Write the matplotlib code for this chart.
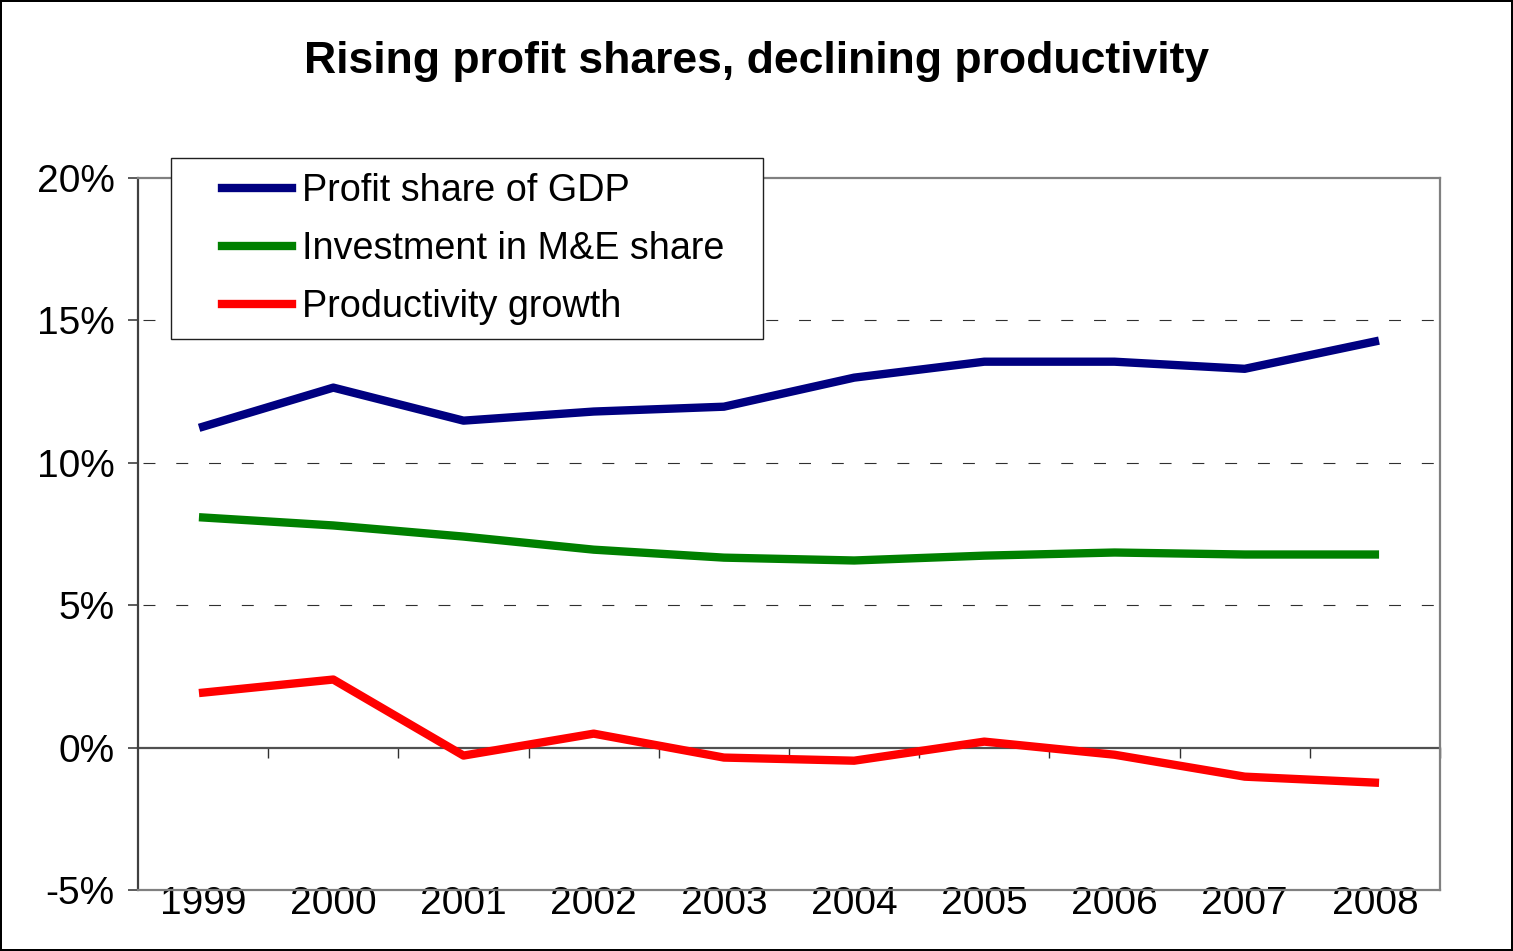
import matplotlib.pyplot as plt
from matplotlib.patches import Rectangle
from matplotlib.ticker import FuncFormatter

plt.rcParams['font.family'] = ['Liberation Sans', 'DejaVu Sans']
plt.rcParams['lines.scale_dashes'] = False

years = ['1999', '2000', '2001', '2002', '2003', '2004', '2005', '2006', '2007', '2008']
profit_share = [11.27, 12.64, 11.48, 11.80, 11.97, 12.99, 13.55, 13.55, 13.30, 14.26]
investment_me = [8.08, 7.80, 7.41, 6.95, 6.67, 6.57, 6.74, 6.85, 6.78, 6.78]
productivity = [1.93, 2.39, -0.28, 0.49, -0.35, -0.46, 0.21, -0.25, -1.02, -1.23]
y_ticks = [-5, 0, 5, 10, 15, 20]

W, H = 1513, 951
fig = plt.figure(figsize=(W / 100, H / 100), dpi=100)
fig.patch.set_edgecolor('black')
fig.patch.set_linewidth(1.5)
ax = fig.add_axes([138 / W, 1 - 890 / H, 1302 / W, 712 / H])

x = range(len(years))
ax.plot(x, profit_share, color='#000080', lw=6, label='Profit share of GDP')
ax.plot(x, investment_me, color='#008000', lw=6, label='Investment in M&E share')
ax.plot(x, productivity, color='#ff0000', lw=6, label='Productivity growth')

ax.set_xlim(-0.5, len(years) - 0.5)
ax.set_ylim(-5, 20)

# dashed gridlines for inner levels only
for level in [5, 10, 15]:
    ax.axhline(level, color='#303030', lw=0.8, linestyle=(20, (8.6, 15)), zorder=0)

ax.set_yticks(y_ticks)
ax.yaxis.set_major_formatter(FuncFormatter(lambda v, p: f'{v:.0f}%'))
ax.tick_params(axis='y', direction='out', length=7, width=1.2, color='#404040',
               labelsize=28, pad=10)

# category labels along the bottom frame
ax.set_xticks(list(x))
ax.set_xticklabels(years)
ax.tick_params(axis='x', length=0, labelsize=28, pad=-3)

for side in ['top', 'right', 'bottom']:
    ax.spines[side].set_color('#808080')
    ax.spines[side].set_linewidth(1.6)
ax.spines['left'].set_color('#404040')
ax.spines['left'].set_linewidth(1.6)

# zero line with category boundary ticks
zero_axis = ax.secondary_xaxis(0.2)
zero_axis.set_xticks([i + 0.5 for i in x])
zero_axis.tick_params(direction='out', length=7, width=1.0, color='#303030', labelbottom=False)
zero_axis.spines['bottom'].set_color('#505050')
zero_axis.spines['bottom'].set_linewidth(1.6)

# legend box with wide side margins
box = Rectangle((171 / W, 1 - 339 / H), (763 - 171) / W, (339 - 158) / H,
                transform=fig.transFigure, facecolor='white', edgecolor='#202020',
                linewidth=1.0, zorder=4, clip_on=False)
ax.add_patch(box)
leg = ax.legend(loc='upper left', bbox_to_anchor=(222 / W, 1 - 173 / H),
                bbox_transform=fig.transFigure, borderaxespad=0, borderpad=0,
                fontsize=27.2, frameon=False, handlelength=1.85,
                handletextpad=0.27, labelspacing=0.58)
leg.set_zorder(5)

fig.text(0.5, 1 - 61 / H, 'Rising profit shares, declining productivity',
         ha='center', va='center', fontsize=32, fontweight='bold')

fig.savefig('out.png', dpi=100, edgecolor=fig.get_edgecolor())
